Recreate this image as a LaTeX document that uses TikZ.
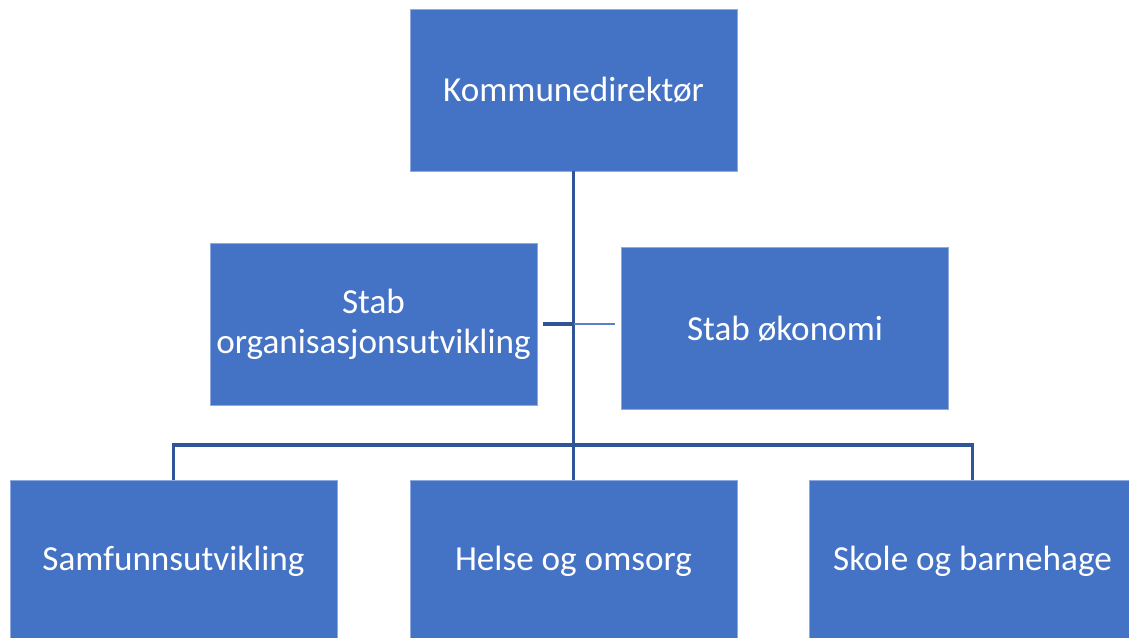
\documentclass[tikz,border=0pt]{standalone}
\usepackage{fontspec}
\setmainfont{Carlito}
\usetikzlibrary{positioning}
\definecolor{boxblue}{HTML}{4472C4}
\definecolor{boxedge}{HTML}{8FAADC}
\definecolor{linkblue}{HTML}{2F5597}
\definecolor{stafflight}{HTML}{5B80C8}
\tikzset{
  unit/.style={rectangle, fill=boxblue, draw=boxedge, line width=0.5pt,
    minimum width=8.175cm, minimum height=4.05cm, inner sep=2pt,
    text=white, font=\fontsize{25}{28.5}\selectfont, align=center},
  link/.style={draw=linkblue, line width=2.2pt},
  stafflink/.style={draw=stafflight, line width=1.4pt}
}

\begin{document}
\begin{tikzpicture}[x=0.025cm, y=-0.025cm]
  \useasboundingbox (0,0) rectangle (1129,637);
  \clip (0,0) rectangle (1129,637);
  \node[unit] (dir) at (573.5,90) {Kommunedirektør};
  \node[unit] (org) at (373.5,324.5) {Stab\\organisasjonsutvikling};
  \node[unit] (okon) at (785,328.5) {Stab økonomi};
  \node[unit] (samf) at (173.5,561) {Samfunnsutvikling};
  \node[unit] (helse) at (573.5,561) {Helse og omsorg};
  \node[unit] (skole) at (972.5,561) {Skole og barnehage};
  \coordinate (bus) at (573.5,445);
  \coordinate (mid) at (dir.south |- 0,324);
  \draw[link] (dir.south) -- (helse.north);
  \draw[link] (samf.north) |- (bus) -| (skole.north);
  \draw[link] ([xshift=4pt]org.east |- mid) -- (mid);
  \draw[stafflink] (mid) -- ([xshift=-4pt]okon.west |- mid);
\end{tikzpicture}
\end{document}
